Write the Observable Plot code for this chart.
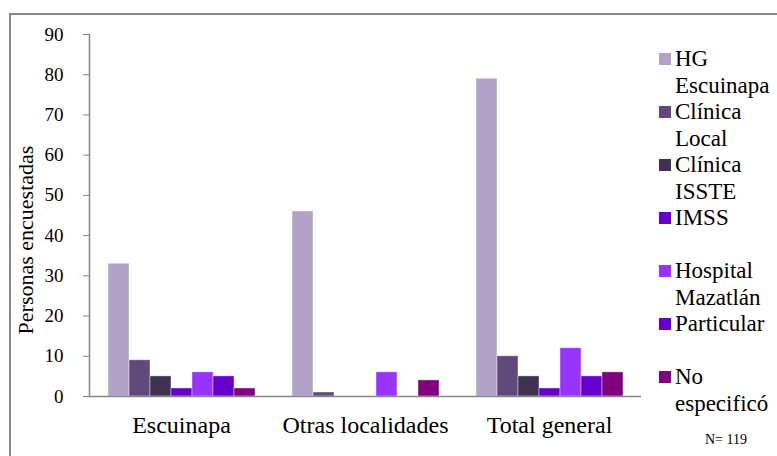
<!DOCTYPE html>
<html>
<head>
<meta charset="utf-8">
<script src="https://cdn.jsdelivr.net/npm/d3@7"></script>
<script src="https://cdn.jsdelivr.net/npm/@observablehq/plot@0.6"></script>
<style>
  html, body { margin: 0; padding: 0; background: #fff; }
  body { width: 777px; height: 456px; position: relative; overflow: hidden; font-family: "Liberation Serif", "Times New Roman", Times, serif; }
  #frame { position: absolute; left: 9px; top: 13px; width: 900px; height: 600px; border-left: 2px solid #878787; border-top: 2px solid #878787; }
  #chart { position: absolute; left: 0; top: 0; }
  #chart svg, #chart svg text { font-family: "Liberation Serif", "Times New Roman", Times, serif !important; }
  #ylabel { position: absolute; left: 26px; top: 240px; transform: translate(-50%, -50%) rotate(-90deg); font-size: 22px; line-height: 22px; white-space: nowrap; color: #000; }
  #legend { position: absolute; left: 659px; top: 45px; }
  .item { position: relative; height: 53px; }
  .sw { position: absolute; left: 0; top: 7.5px; width: 12px; height: 12px; }
  .lab { position: absolute; left: 16px; top: 0; font-size: 23px; line-height: 27px; color: #000; white-space: nowrap; }
  #note { position: absolute; left: 705px; top: 432px; font-size: 14px; color: #000; }
</style>
</head>
<body>
<div id="frame"></div>
<div id="chart"></div>
<div id="ylabel">Personas encuestadas</div>
<div id="legend"></div>
<div id="note">N= 119</div>
<script>
const groups = ["Escuinapa", "Otras localidades", "Total general"];
const series = ["HG Escuinapa", "Clínica Local", "Clínica ISSTE", "IMSS", "Hospital Mazatlán", "Particular", "No especificó"];
const legendLines = [["HG", "Escuinapa"], ["Clínica", "Local"], ["Clínica", "ISSTE"], ["IMSS"], ["Hospital", "Mazatlán"], ["Particular"], ["No", "especificó"]];
const escuinapa = [33, 9, 5, 2, 6, 5, 2];
const otras = [46, 1, 0, 0, 6, 0, 4];
const total = [79, 10, 5, 2, 12, 5, 6];
const colors = ["#B3A2C7", "#604A7B", "#403152", "#6600CC", "#9933FF", "#6600CC", "#800080"];
const yTicks = [0, 10, 20, 30, 40, 50, 60, 70, 80, 90];

const valuesByGroup = [escuinapa, otras, total];
const data = [];
groups.forEach((g, gi) => series.forEach((s, si) => data.push({group: g, series: s, value: valuesByGroup[gi][si]})));

const font = "'Liberation Serif', 'Times New Roman', Times, serif";
const chart = Plot.plot({
  width: 777,
  height: 456,
  marginLeft: 88,
  marginRight: 136,
  marginTop: 34,
  marginBottom: 60,
  style: {fontFamily: font, color: "#000", background: "transparent", overflow: "visible"},
  fx: {domain: groups, padding: 0, label: null},
  x: {domain: series, paddingInner: 0, paddingOuter: 0.75, axis: null},
  y: {domain: [0, 90]},
  color: {domain: series, range: colors},
  marks: [
    Plot.barY(data.filter(d => d.value > 0), {fx: "group", x: "series", y: "value", fill: "series", stroke: "#ffffff", strokeOpacity: 0.5, strokeWidth: 0.8, inset: 0}),
    Plot.ruleY([0], {stroke: "#868686", strokeWidth: 1.5}),
    Plot.frame({anchor: "left", facetAnchor: "left", stroke: "#868686", strokeWidth: 1.5}),
    Plot.axisY({ticks: yTicks, tickSize: 6, tickPadding: 20, fontSize: 19, stroke: "#868686", label: null}),
    Plot.axisFx({anchor: "bottom", tickSize: 0, tickPadding: 19, fontSize: 24, label: null})
  ]
});
document.getElementById("chart").appendChild(chart);

const legend = document.getElementById("legend");
series.forEach((s, i) => {
  const item = document.createElement("div");
  item.className = "item";
  const sw = document.createElement("div");
  sw.className = "sw";
  sw.style.background = colors[i];
  const lab = document.createElement("div");
  lab.className = "lab";
  lab.innerHTML = legendLines[i].join("<br>");
  item.appendChild(sw);
  item.appendChild(lab);
  legend.appendChild(item);
});
</script>
</body>
</html>
